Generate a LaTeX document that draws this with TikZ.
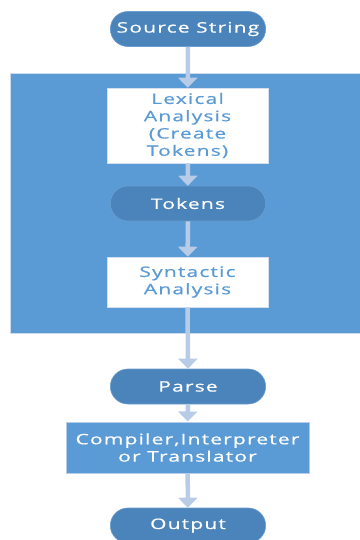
\documentclass[tikz,border=0pt]{standalone}
\usepackage{fontspec}
\setmainfont{Open Sans}[FakeStretch=1.45,LetterSpace=8,FakeBold=0.6]
\usetikzlibrary{arrows.meta,shapes.misc}
\definecolor{panel}{HTML}{5B9BD5}
\definecolor{term}{HTML}{4A84BA}
\definecolor{termedge}{HTML}{6A9ED0}
\definecolor{flow}{HTML}{B8CCE8}
\definecolor{labelblue}{HTML}{5B9BD5}
\tikzset{
  x=1pt, y=-1pt,
  lbl/.style={font=\fontsize{14.5}{17.3}\selectfont},
  terminal/.style={lbl, rounded rectangle, fill=term, draw=termedge, line width=0.6pt,
    minimum width=162pt, minimum height=35pt, text=white},
  whitebox/.style={lbl, rectangle, fill=white, draw=flow!60, line width=0.6pt,
    minimum width=161pt, text width=150pt, align=center, text=labelblue, inner sep=0pt},
  bluebox/.style={lbl, rectangle, fill=panel, draw=flow, line width=1pt,
    minimum width=243pt, minimum height=51pt, align=center, text=white, inner sep=0pt},
  flowarrow/.style={draw=flow, line width=4.5pt,
    -{Triangle[width=19pt,length=10pt]}}
}
\begin{document}
\begin{tikzpicture}
\useasboundingbox (0,0) rectangle (359,540);
\fill[white] (0,0) rectangle (359,540);
% stage panel
\fill[panel] (10,73) rectangle (362,333);
\draw[flow!70, line width=0.6pt] (362,73) -- (10,73) -- (10,333) -- (362,333);
\node[terminal] (src) at (188,29) {Source String};
\node[whitebox, minimum height=75pt] (lex) at (187.5,125.5) {Lexical\\Analysis\\(Create\\Tokens)};
\node[terminal] (tok) at (188,203.5) {Tokens};
\node[whitebox, minimum height=50pt] (syn) at (187.5,282) {Syntactic\\Analysis};
\node[terminal] (parse) at (188,386.5) {Parse};
\node[bluebox] (comp) at (187.5,447.5) {Compiler,Interpreter\\or Translator};
\node[terminal] (out) at (188,525.5) {Output};
\draw[flowarrow] (src) -- (lex);
\draw[flowarrow] (lex) -- (tok);
\draw[flowarrow] (tok) -- (syn);
\draw[flowarrow] (syn) -- (parse);
\draw[flowarrow] (parse) -- (comp);
\draw[flowarrow] (comp) -- (out);
\end{tikzpicture}
\end{document}
